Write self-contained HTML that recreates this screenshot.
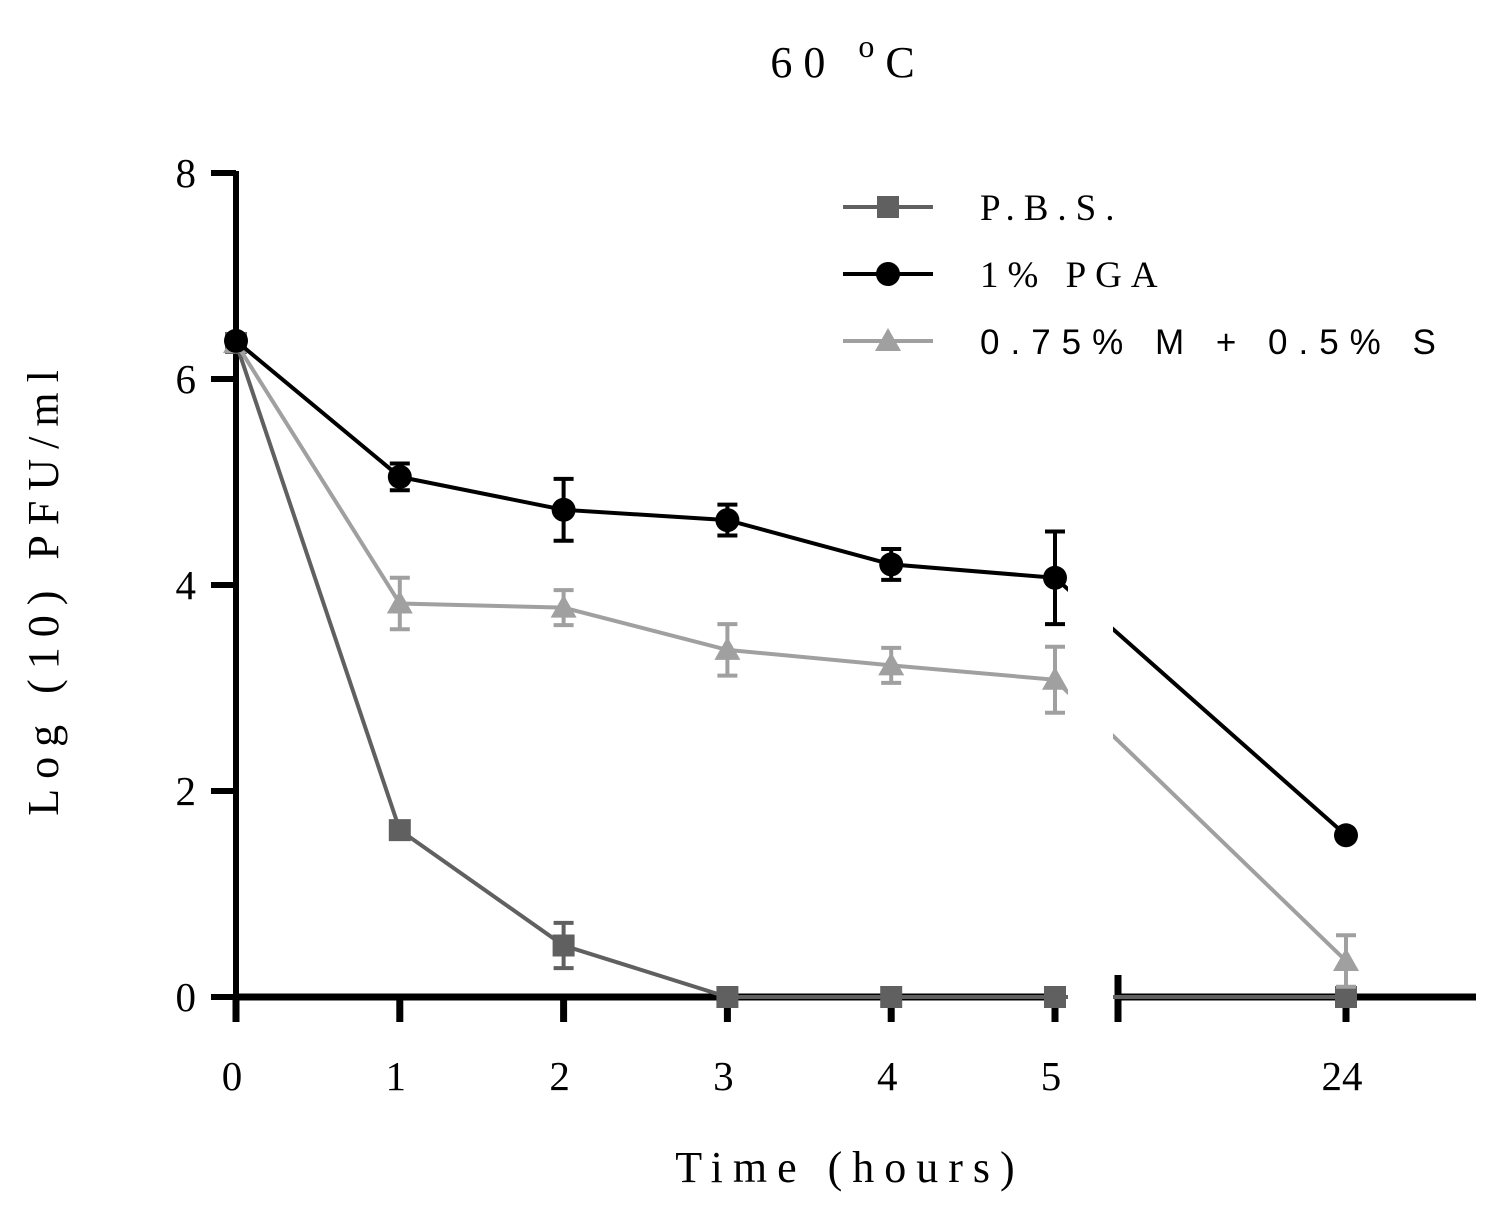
<!DOCTYPE html>
<html><head><meta charset="utf-8"><style>
body{margin:0;background:#fff}
svg{display:block}
text{font-family:"Liberation Serif",serif}
</style></head><body>
<svg id="chart" width="1497" height="1205" viewBox="0 0 1497 1205" xmlns="http://www.w3.org/2000/svg">
<text x="848" y="77" font-size="44" text-anchor="middle" letter-spacing="11">60 <tspan dy="-20" font-size="32">o</tspan><tspan dy="20">C</tspan></text>
<text transform="translate(58,588) rotate(-90)" font-size="44" text-anchor="middle" letter-spacing="10">Log (10) PFU/ml</text>
<text x="850" y="1182" font-size="44" text-anchor="middle" letter-spacing="10">Time (hours)</text>
<g id="axes"></g>
<g id="marks"></g>
<g id="legend"></g>
</svg>
<script>
const xLabels=["0","1","2","3","4","5","24"];
const yTicks=[0,2,4,6,8];
const pbs=[6.35,1.62,0.5,0,0,0,0];
const pbsErr=[0,0.05,0.22,0,0,0,0];
const pga=[6.37,5.05,4.73,4.63,4.2,4.07,1.57];
const pgaErr=[0,0.13,0.3,0.15,0.15,0.45,0];
const ms=[6.35,3.82,3.78,3.37,3.22,3.08,0.35];
const msErr=[0,0.25,0.17,0.25,0.17,0.32,0.25];
const NS="http://www.w3.org/2000/svg";
function X(i){return i<6?236+i*163.8:1346;}
function Y(v){return 997-v*103;}
function mk(tag,attrs,parent){const e=document.createElementNS(NS,tag);for(const k in attrs)e.setAttribute(k,attrs[k]);parent.appendChild(e);return e;}
const axes=document.getElementById('axes'),marks=document.getElementById('marks'),legend=document.getElementById('legend');
const yAxis=mk('line',{x1:236,y1:171,x2:236,y2:1000,stroke:'#000','stroke-width':6},axes);


yTicks.forEach(v=>{
 const t=mk('line',{x1:211,x2:236,y1:Y(v),y2:Y(v),stroke:'#000','stroke-width':6},axes);
 
 
 const l=mk('text',{x:196,y:Y(v)+14,'font-size':41,'text-anchor':'end'},axes);l.textContent=v;
 
 
});
const xa1=mk('line',{x1:234,x2:1066,y1:997,y2:997,stroke:'#000','stroke-width':7},axes);


const xa2=mk('line',{x1:1116,x2:1476,y1:997,y2:997,stroke:'#000','stroke-width':7},axes);


const brk=mk('line',{x1:1118,x2:1118,y1:975,y2:1022,stroke:'#000','stroke-width':7},axes);


xLabels.forEach((s,i)=>{
 const t=mk('line',{x1:X(i),x2:X(i),y1:997,y2:1022,stroke:'#000','stroke-width':7},axes);
 
 
 const l=mk('text',{x:X(i)-4,y:1090,'font-size':41,'text-anchor':'middle'},axes);l.textContent=s;
 
 
});
mk('clipPath',{id:'gap'},marks);
const cp=document.getElementById('gap');
mk('rect',{x:0,y:0,width:1068,height:1205},cp);mk('rect',{x:1113,y:0,width:400,height:1205},cp);
function series(name,vals,errs,color,shape){
 const g=mk('g',{},marks);
 
 
 const pts=vals.map((v,i)=>X(i)+','+Y(v)).join(' ');
 const pl=mk('polyline',{points:pts,fill:'none',stroke:color,'stroke-width':4,'clip-path':'url(#gap)'},g);
 
 
 vals.forEach((v,i)=>{
  if(errs[i]>0){
   const e=mk('path',{d:`M${X(i)},${Y(v-errs[i])}V${Y(v+errs[i])}M${X(i)-10},${Y(v-errs[i])}h20M${X(i)-10},${Y(v+errs[i])}h20`,stroke:color,'stroke-width':4,fill:'none'},g);
   
   
  }
  const m=marker(shape,X(i),Y(v),color,g);
  
  
 });
}
function marker(shape,x,y,c,p){
 if(shape==='sq')return mk('rect',{x:x-11,y:y-11,width:22,height:22,fill:c},p);
 if(shape==='ci')return mk('circle',{cx:x,cy:y,r:12,fill:c},p);
 return mk('polygon',{points:`${x},${y-13} ${x+13},${y+10} ${x-13},${y+10}`,fill:c},p);
}
series('pbs',pbs,pbsErr,'#606060','sq');
series('ms',ms,msErr,'#a0a0a0','tr');
series('pga',pga,pgaErr,'#000','ci');
const leg=[['P.B.S.','#606060','sq',207,'serif'],['1% PGA','#000','ci',274,'serif'],['0.75% M + 0.5% S','#a0a0a0','tr',341,'sans']];
leg.forEach(([lab,c,s,y,f])=>{
 const g=mk('g',{},legend);
 
 
 mk('line',{x1:843,x2:933,y1:y,y2:y,stroke:c,'stroke-width':4},g);
 marker(s,888,y,c,g);
 const t=mk('text',{x:980,y:y+13,'font-size':f==='sans'?35:37,'letter-spacing':f==='sans'?11:9},g);
 if(f==='sans')t.setAttribute('style','font-family:"Liberation Sans",sans-serif');
 t.textContent=lab;
});
</script>
</body></html>
